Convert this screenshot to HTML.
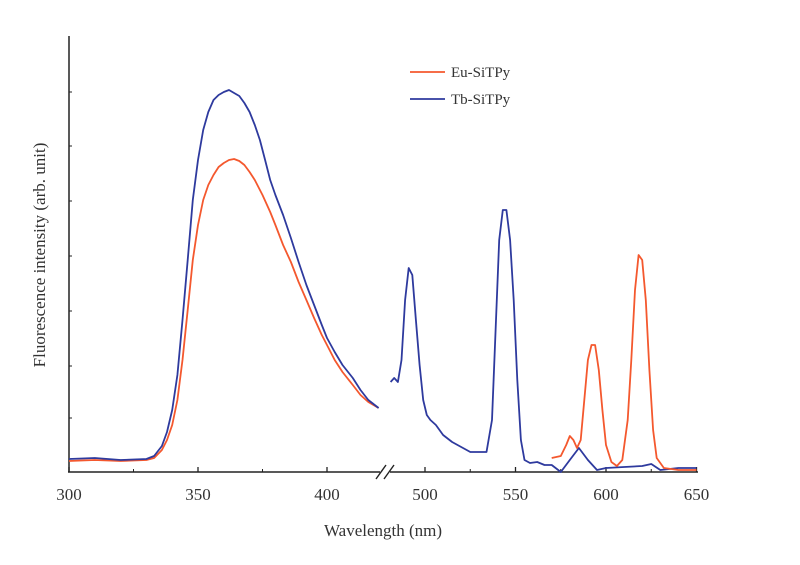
<!DOCTYPE html>
<html><head><meta charset="utf-8">
<style>
body{margin:0;background:#fff;}
svg{display:block;font-family:"Liberation Serif",serif;}
</style></head>
<body>
<svg id="chart" width="800" height="565" viewBox="0 0 800 565" xmlns="http://www.w3.org/2000/svg">
<g id="axes"></g>
<g id="series"></g>
<g>
<line x1="410" y1="72" x2="445" y2="72" stroke="#f4582e" stroke-width="1.7"/>
<text x="451" y="77" font-size="15" fill="#333">Eu-SiTPy</text>
<line x1="410" y1="99" x2="445" y2="99" stroke="#2e3a9e" stroke-width="1.7"/>
<text x="451" y="104" font-size="15" fill="#333">Tb-SiTPy</text>
</g>
<text x="383" y="536" font-size="17" text-anchor="middle" fill="#333">Wavelength (nm)</text>
<text transform="translate(45,255) rotate(-90)" font-size="17" text-anchor="middle" fill="#333">Fluorescence intensity (arb. unit)</text>
</svg>
<script>
const leftTicks=[300,350,400];
const rightTicks=[500,550,600,650];
const leftMinor=[325,375];
const rightMinor=[525,575,625];
const yTickVals=[54,106,161,216,271,326,380];
const euLeftW=[300,310,320,330,333,336,338,340,342,344,346,348,350,352,354,356,358,360,362,364,366,368,370,372,375,378,380,383,386,389,392,395,398,400,403,406,410,413,416,420];
const euLeftV=[11,12,11,12,14,22,32,47,72,112,162,212,247,272,287,297,305,309,312,313,311,307,300,292,277,260,247,227,210,190,172,154,137,127,112,100,87,77,70,64];
const tbLeftW=[300,310,320,330,333,336,338,340,342,344,346,348,350,352,354,356,358,360,362,364,366,368,370,372,374,376,378,380,383,386,389,392,395,398,400,403,406,410,413,416,420];
const tbLeftV=[13,14,12,13,16,26,40,62,97,152,212,272,312,342,360,372,377,380,382,379,376,369,360,347,332,312,292,277,257,234,210,187,167,147,134,120,107,94,82,72,64];
const tbRightW=[481,483,485,487,489,491,493,495,497,499,501,503,506,510,515,520,525,530,534,537,539,541,543,545,547,549,551,553,555,558,562,566,570,575,580,585,590,595,600,610,620,625,630,640,650];
const tbRightV=[90,94,90,112,172,204,197,152,107,72,57,52,47,37,30,25,20,20,20,52,142,232,262,262,232,172,92,32,12,9,10,7,7,0,12,24,12,2,4,5,6,8,2,4,4];
const euRightW=[570,575,578,580,582,584,586,588,590,592,594,596,598,600,603,606,609,612,614,616,618,620,622,624,626,628,632,640,650];
const euRightV=[14,16,27,36,32,24,32,72,112,127,127,102,62,27,10,6,12,52,112,182,217,212,172,102,42,14,4,2,2];

const NS="http://www.w3.org/2000/svg";
const X0=472;
function xs(w){return w<=450?69+(w-300)*2.58:425+(w-500)*1.81;}
function ys(v){return X0-v;}
const axes=document.getElementById('axes'),ser=document.getElementById('series');
function mk(tag,attrs,parent){const e=document.createElementNS(NS,tag);for(const k in attrs)e.setAttribute(k,attrs[k]);parent.appendChild(e);return e;}
let e;
e=mk('line',{x1:69,y1:36,x2:69,y2:X0,stroke:'#222','stroke-width':1.5},axes);


e=mk('line',{x1:68,y1:X0,x2:698,y2:X0,stroke:'#222','stroke-width':1.5},axes);


yTickVals.forEach(v=>{e=mk('line',{x1:69,y1:ys(v),x2:72,y2:ys(v),stroke:'#222','stroke-width':1},axes);

});
leftTicks.concat(rightTicks).forEach(w=>{
e=mk('line',{x1:xs(w),y1:X0,x2:xs(w),y2:X0-5,stroke:'#222','stroke-width':1.3},axes);


e=mk('text',{x:xs(w),y:500,'font-size':17,'text-anchor':'middle',fill:'#333'},axes);e.textContent=w;

});
leftMinor.concat(rightMinor).forEach(w=>{
e=mk('line',{x1:xs(w),y1:X0,x2:xs(w),y2:X0-3,stroke:'#222','stroke-width':1},axes);

});
e=mk('rect',{x:380,y:X0-2,width:10,height:4,fill:'#fff'},axes);


[[376,386],[384,394]].forEach(p=>{e=mk('line',{x1:p[0],y1:X0+7,x2:p[1],y2:X0-7,stroke:'#222','stroke-width':1.4},axes);

});
function path(W,V,color,name){
const d=W.map((w,i)=>(i?'L':'M')+xs(w).toFixed(1)+','+ys(V[i]).toFixed(1)).join('');
const p=mk('path',{d:d,fill:'none',stroke:color,'stroke-width':1.8,'stroke-linejoin':'round'},ser);

}
path(euLeftW,euLeftV,'#f4582e','eu-line-excitation');
path(tbLeftW,tbLeftV,'#2e3a9e','tb-line-excitation');
path(tbRightW,tbRightV,'#2e3a9e','tb-line-emission');
path(euRightW,euRightV,'#f4582e','eu-line-emission');
</script>
</body></html>
